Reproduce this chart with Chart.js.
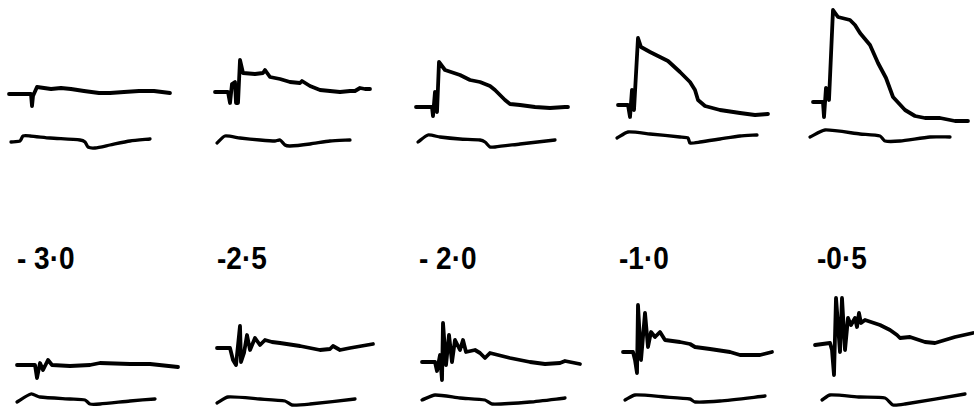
<!DOCTYPE html>
<html>
<head>
<meta charset="utf-8">
<script src="https://cdn.jsdelivr.net/npm/chart.js@4"></script>
<style>
  html, body { margin: 0; padding: 0; background: #fff; }
  #fig { position: relative; width: 974px; height: 408px; overflow: hidden; background: #fff; }
  .panel { position: absolute; }
  .lbl { position: absolute; font-family: "Liberation Sans", Arial, sans-serif; font-weight: bold;
         font-size: 28px; color: #000; line-height: 28px; white-space: pre; transform: scaleY(1.1); }
</style>
</head>
<body>
<div id="fig"></div>
<script>
// stimulus strength labels (between the two rows)
const stimLabels = ['- 3·0', '-2·5', '- 2·0', '-1·0', '-0·5'];

// top row: response traces, [time, deflection]
const topResp30 = [[0,0],[22,0],[23,-12],[24,-2],[28,7],[35,6],[42,5],[52,6],[62,5],[75,3],[90,1],[101,1],[115,2],[130,3],[145,3],[161,1]];
const topResp25 = [[0,0],[13,0],[15,-11],[17,8],[20,10],[21,-11],[23,-11],[25,32],[28,19],[40,18],[48,19],[50,22],[55,15],[65,13],[75,10],[85,9],[87,11],[95,6],[105,2],[115,1],[125,0],[135,1],[140,1],[145,4],[150,3],[155,3]];
const topResp20 = [[0,0],[16,0],[17,-9],[19,15],[21,-5],[23,45],[29,37],[44,32],[54,27],[64,25],[74,21],[79,17],[84,12],[89,7],[94,3],[104,2],[119,0],[134,-1],[149,0],[152,0]];
const topResp10 = [[0,0],[10,0],[12,-12],[14,15],[16,-5],[20,67],[23,58],[32,53],[42,48],[50,44],[62,33],[72,23],[77,15],[80,5],[87,-1],[102,-5],[122,-8],[137,-10],[150,-9]];
const topResp05 = [[0,0],[10,0],[11,-15],[13,14],[16,2],[20,92],[25,85],[37,82],[42,77],[47,69],[57,57],[65,39],[73,24],[80,5],[92,-8],[102,-14],[112,-16],[127,-16],[142,-19],[155,-19]];

// top row: marker traces underneath
const topMark30 = [[2,-48],[11,-47],[14,-42],[21,-42],[41,-44],[71,-46],[76,-48],[79,-53],[86,-54],[101,-51],[121,-47],[141,-45]];
const topMark25 = [[2,-51],[10,-44],[25,-46],[45,-48],[60,-49],[65,-48],[70,-53],[75,-54],[95,-52],[115,-49],[135,-48]];
const topMark20 = [[2,-35],[12,-28],[24,-30],[44,-32],[64,-33],[69,-35],[74,-40],[79,-40],[104,-37],[139,-33]];
const topMark10 = [[-1,-33],[10,-27],[32,-29],[62,-32],[70,-33],[72,-38],[82,-37],[102,-34],[122,-31],[139,-30]];
const topMark05 = [[-3,-35],[12,-28],[47,-32],[67,-34],[72,-39],[87,-39],[117,-35],[137,-35]];

// bottom row: response traces
const botResp30 = [[0,0],[18,0],[20,-13],[23,2],[26,-5],[31,5],[35,0],[53,-1],[73,0],[83,2],[113,1],[133,1],[161,-2]];
const botResp25 = [[0,0],[13,0],[16,-12],[19,-17],[23,22],[24,-14],[27,-5],[30,13],[33,-2],[38,10],[43,3],[48,8],[55,6],[63,5],[83,2],[103,-2],[113,-1],[116,2],[123,-2],[133,0],[156,4]];
const botResp20 = [[0,0],[13,0],[15,-9],[18,7],[20,-18],[21,39],[24,-3],[27,27],[30,0],[33,22],[38,12],[41,22],[44,10],[53,12],[58,9],[63,4],[68,9],[88,4],[108,0],[123,-2],[138,-1],[143,1],[158,-2]];
const botResp10 = [[0,0],[10,0],[12,-8],[14,-21],[15,47],[18,-8],[22,39],[25,5],[28,20],[32,15],[37,20],[42,12],[57,10],[67,8],[72,5],[87,3],[107,0],[117,-3],[137,-3],[149,0]];
const botResp05 = [[0,0],[15,2],[17,-5],[19,-30],[21,47],[25,-7],[27,47],[30,-5],[33,27],[36,20],[40,27],[42,18],[44,32],[46,22],[50,25],[65,20],[75,15],[82,10],[85,7],[95,8],[110,3],[120,2],[130,5],[140,8],[158,12]];

// bottom row: marker traces
const botMark30 = [[0,-37],[14,-29],[23,-32],[53,-34],[68,-35],[73,-39],[83,-39],[113,-36],[138,-34]];
const botMark25 = [[0,-55],[11,-49],[43,-51],[68,-53],[75,-57],[93,-56],[138,-51]];
const botMark20 = [[0,-38],[13,-33],[38,-36],[63,-38],[70,-42],[108,-40],[143,-36]];
const botMark10 = [[2,-48],[12,-43],[42,-45],[67,-47],[72,-50],[97,-49],[142,-44]];
const botMark05 = [[7,-55],[15,-50],[45,-52],[70,-53],[78,-60],[90,-59],[150,-49]];

// layout of the panels (left edge of trace, baseline row)
const fig = document.getElementById('fig');
const topRow = { yMin: -70, yMax: 100, panels: [
  { left: 9, base: 94, resp: topResp30, mark: topMark30 },
  { left: 215, base: 92, resp: topResp25, mark: topMark25 },
  { left: 416, base: 107, resp: topResp20, mark: topMark20 },
  { left: 618, base: 105, resp: topResp10, mark: topMark10 },
  { left: 813, base: 102, resp: topResp05, mark: topMark05 },
]};
const botRow = { yMin: -65, yMax: 55, panels: [
  { left: 17, base: 365, resp: botResp30, mark: botMark30 },
  { left: 217, base: 348, resp: botResp25, mark: botMark25 },
  { left: 422, base: 362, resp: botResp20, mark: botMark20 },
  { left: 623, base: 352, resp: botResp10, mark: botMark10 },
  { left: 815, base: 345, resp: botResp05, mark: botMark05 },
]};

const xMin = -10, xMax = 170;
const toXY = (pts) => pts.map(p => ({ x: p[0], y: p[1] }));

const makePanel = (row, p) => {
  const w = xMax - xMin, h = row.yMax - row.yMin;
  const cv = document.createElement('canvas');
  cv.className = 'panel';
  cv.width = w; cv.height = h;
  cv.style.left = (p.left + xMin) + 'px';
  cv.style.top = (p.base - row.yMax) + 'px';
  cv.style.width = w + 'px'; cv.style.height = h + 'px';
  fig.appendChild(cv);
  new Chart(cv, {
    type: 'line',
    data: {
      datasets: [
        { data: toXY(p.resp), borderColor: '#000', borderWidth: 3.8, pointRadius: 0, tension: 0,
          borderJoinStyle: 'round', borderCapStyle: 'round' },
        { data: toXY(p.mark), borderColor: '#000', borderWidth: 3.3, pointRadius: 0, tension: 0.2,
          borderJoinStyle: 'round', borderCapStyle: 'round' },
      ],
    },
    options: {
      responsive: false,
      animation: false,
      devicePixelRatio: 1,
      layout: { padding: 0 },
      plugins: { legend: { display: false }, tooltip: { enabled: false } },
      scales: {
        x: { type: 'linear', min: xMin, max: xMax, display: false },
        y: { type: 'linear', min: row.yMin, max: row.yMax, display: false },
      },
    },
  });
};

topRow.panels.forEach(p => makePanel(topRow, p));
botRow.panels.forEach(p => makePanel(botRow, p));

const lblLeft = [17, 217, 419, 619, 817];
stimLabels.forEach((t, i) => {
  const d = document.createElement('div');
  d.className = 'lbl';
  d.textContent = t;
  d.style.left = lblLeft[i] + 'px';
  d.style.top = '245px';
  fig.appendChild(d);
});
</script>
</body>
</html>
